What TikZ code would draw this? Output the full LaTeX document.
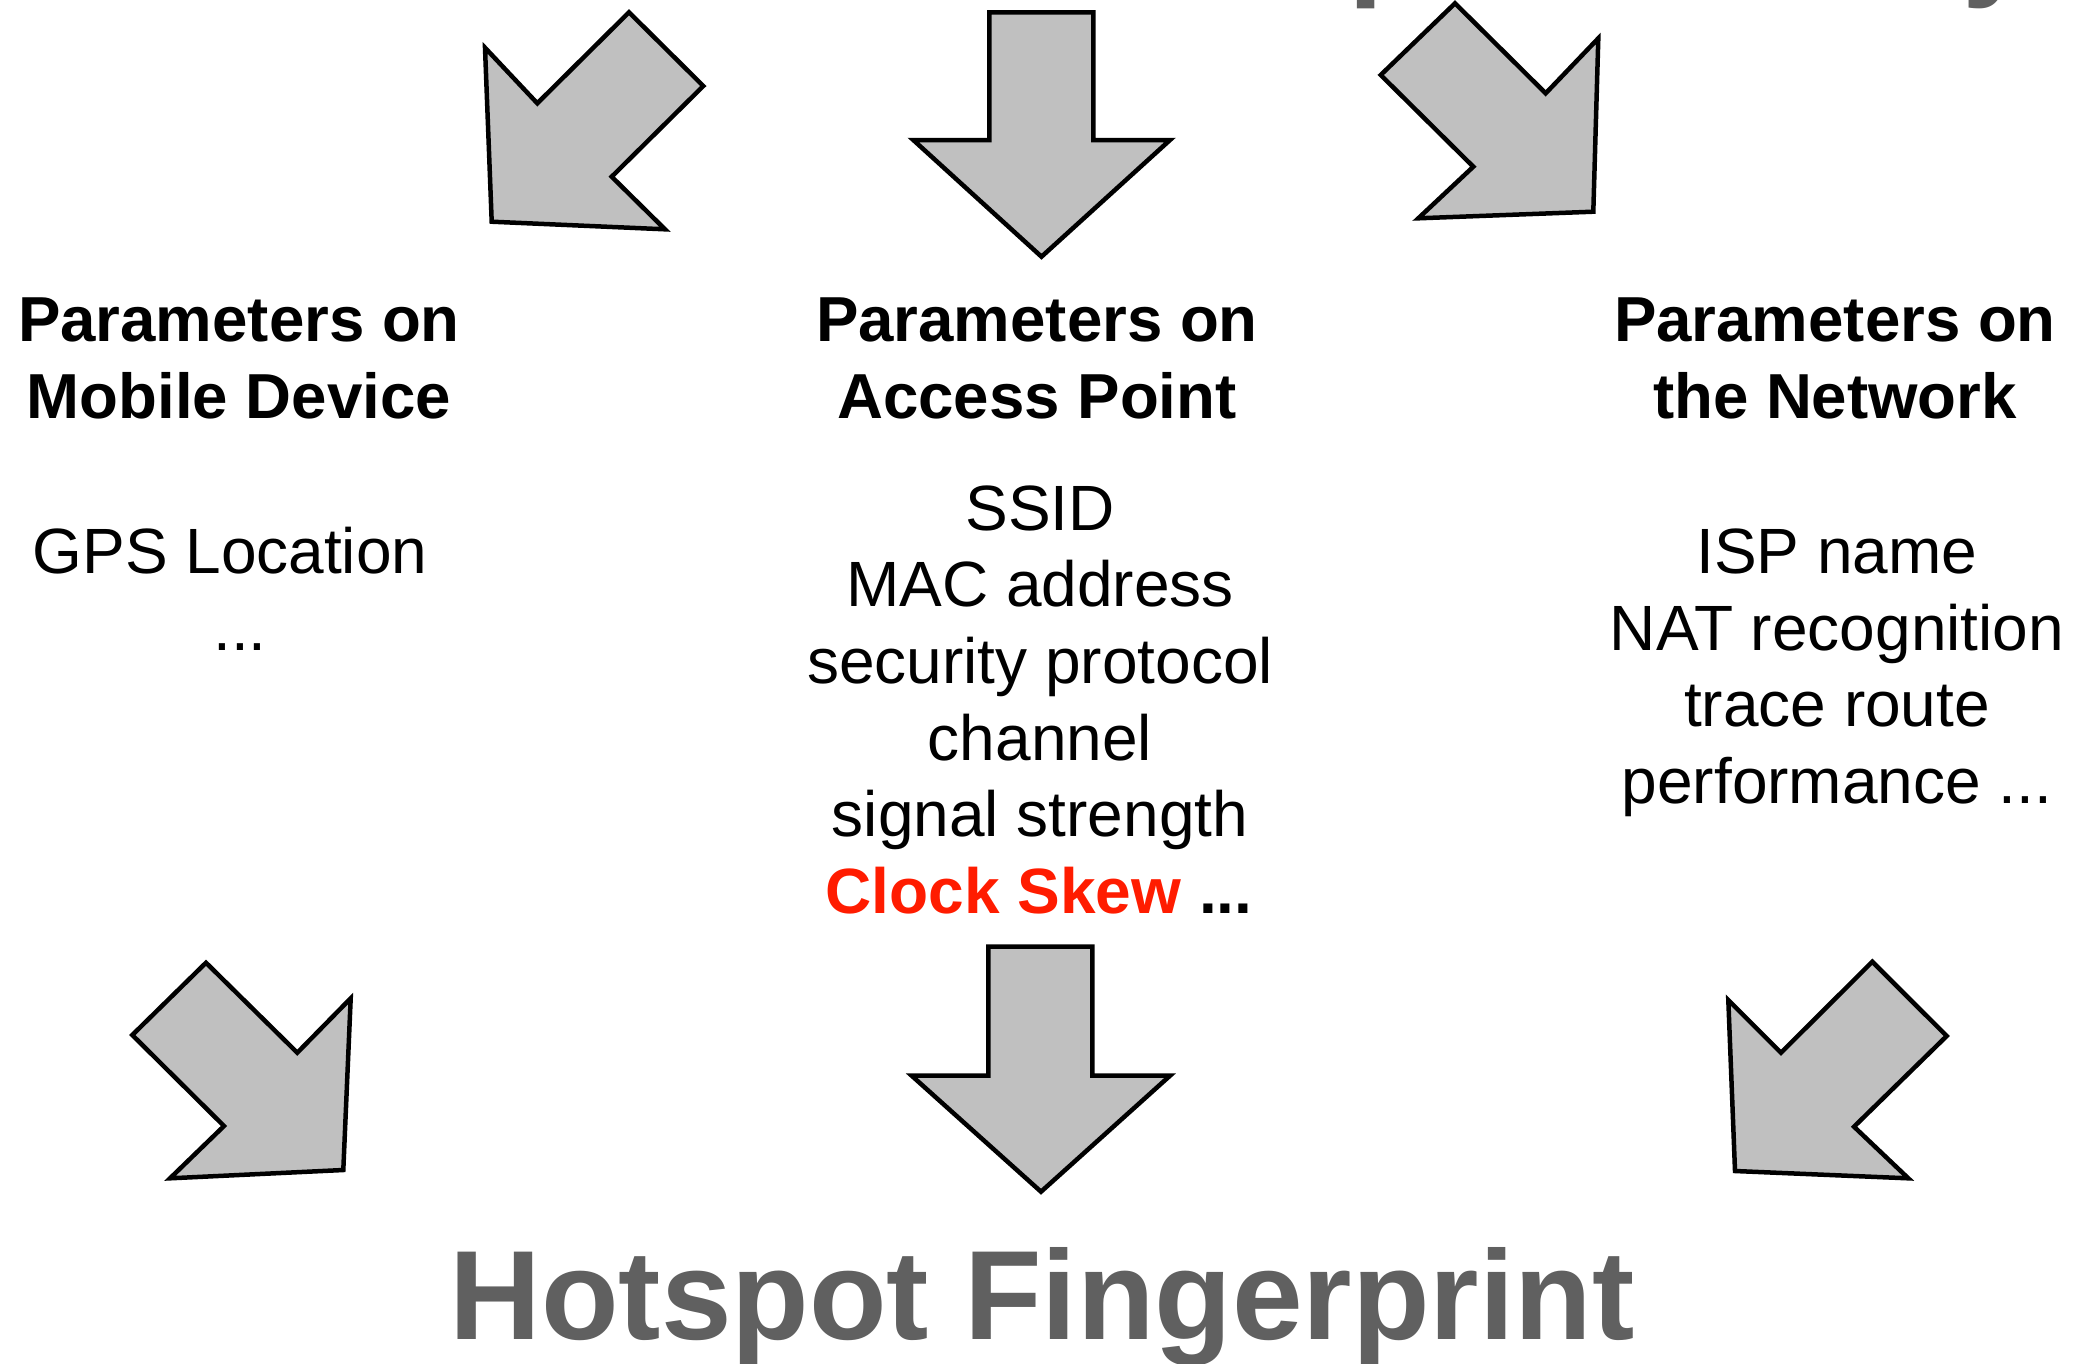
\documentclass[tikz,border=0pt]{standalone}
\usepackage{fontspec}
\setmainfont{Liberation Sans}
\definecolor{arrowgray}{RGB}{192,192,192}
\definecolor{titlegray}{RGB}{96,96,96}
\definecolor{clockred}{RGB}{255,28,0}
\tikzset{
  blockarrow/.style={fill=arrowgray, draw=black, line width=4.5pt, line join=miter},
  headtext/.style={anchor=base, inner sep=0pt, font=\fontsize{63.6}{76}\selectfont\bfseries},
  itemtext/.style={anchor=base, inner sep=0pt, font=\fontsize{64}{76}\selectfont},
  bigtitle/.style={inner sep=0pt, text=titlegray, font=\fontsize{127}{150}\selectfont\bfseries}
}
\begin{document}
\begin{tikzpicture}[x=1pt,y=-1pt]
\useasboundingbox (0,0) rectangle (2077,1363);
% cut-off title at the top (only descenders visible)
\begin{scope}
\clip (0,0) rectangle (2077,1363);
\node[bigtitle, anchor=base west] (toptitle) at (1066,-18) {Hotspot Identity};
\end{scope}
% top arrows
\draw[blockarrow] (491.7,221.7) -- (485,47.7) -- (537.3,103.3) -- (629,12.3) -- (703.3,86) -- (611.7,176.7) -- (665,229.3) -- cycle;
\draw[blockarrow] (989.3,12.3) -- (1093.3,12.3) -- (1093.3,140) -- (1170,140) -- (1041.5,256.7) -- (913.3,140) -- (989.3,140) -- cycle;
\draw[blockarrow] (1455,3.3) -- (1380.7,75) -- (1473.3,166.7) -- (1418.3,218.3) -- (1593.3,211.7) -- (1598.3,38.3) -- (1545.7,93.3) -- cycle;
% headers
\node[headtext] (h1a) at (239,341.7) {Parameters on};
\node[headtext] (h1b) at (239,418.3) {Mobile Device};
\node[headtext] (h2a) at (1037,341.7) {Parameters on};
\node[headtext] (h2b) at (1037,418.3) {Access Point};
\node[headtext] (h3a) at (1835,341.7) {Parameters on};
\node[headtext] (h3b) at (1835,418.3) {the Network};
% left items
\node[itemtext] (l1) at (230,573.3) {GPS Location};
\node[itemtext] (l2) at (240,650) {...};
% middle items
\node[itemtext] (m1) at (1040,530) {SSID};
\node[itemtext] (m2) at (1040,606.7) {MAC address};
\node[itemtext] (m3) at (1040,683.3) {security protocol};
\node[itemtext] (m4) at (1040,760) {channel};
\node[itemtext] (m5) at (1040,836.7) {signal strength};
\node[itemtext, font=\fontsize{64}{76}\selectfont\bfseries] (m6) at (1039,913.3) {\textcolor{clockred}{Clock Skew} ...};
% right items
\node[itemtext] (r1) at (1837,573.5) {ISP name};
\node[itemtext] (r2) at (1837,650.2) {NAT recognition};
\node[itemtext] (r3) at (1837,726.9) {trace route};
\node[itemtext] (r4) at (1837,803.6) {performance ...};
% bottom arrows
\draw[blockarrow] (206,962.7) -- (132.3,1035) -- (224,1126) -- (170,1178.3) -- (343.3,1170) -- (350.7,998.3) -- (297.3,1052.7) -- cycle;
\draw[blockarrow] (988.3,946.7) -- (1092.3,946.7) -- (1092.3,1075.7) -- (1170,1075.7) -- (1041,1191.7) -- (911.7,1075.7) -- (988.3,1075.7) -- cycle;
\draw[blockarrow] (1872.3,961.7) -- (1946.7,1036) -- (1854,1126.7) -- (1908.3,1178.3) -- (1735,1171) -- (1728.3,1000) -- (1781,1052.7) -- cycle;
% bottom title
\node[bigtitle, anchor=base] (fp) at (1042,1339) {Hotspot Fingerprint};
\end{tikzpicture}
\end{document}
